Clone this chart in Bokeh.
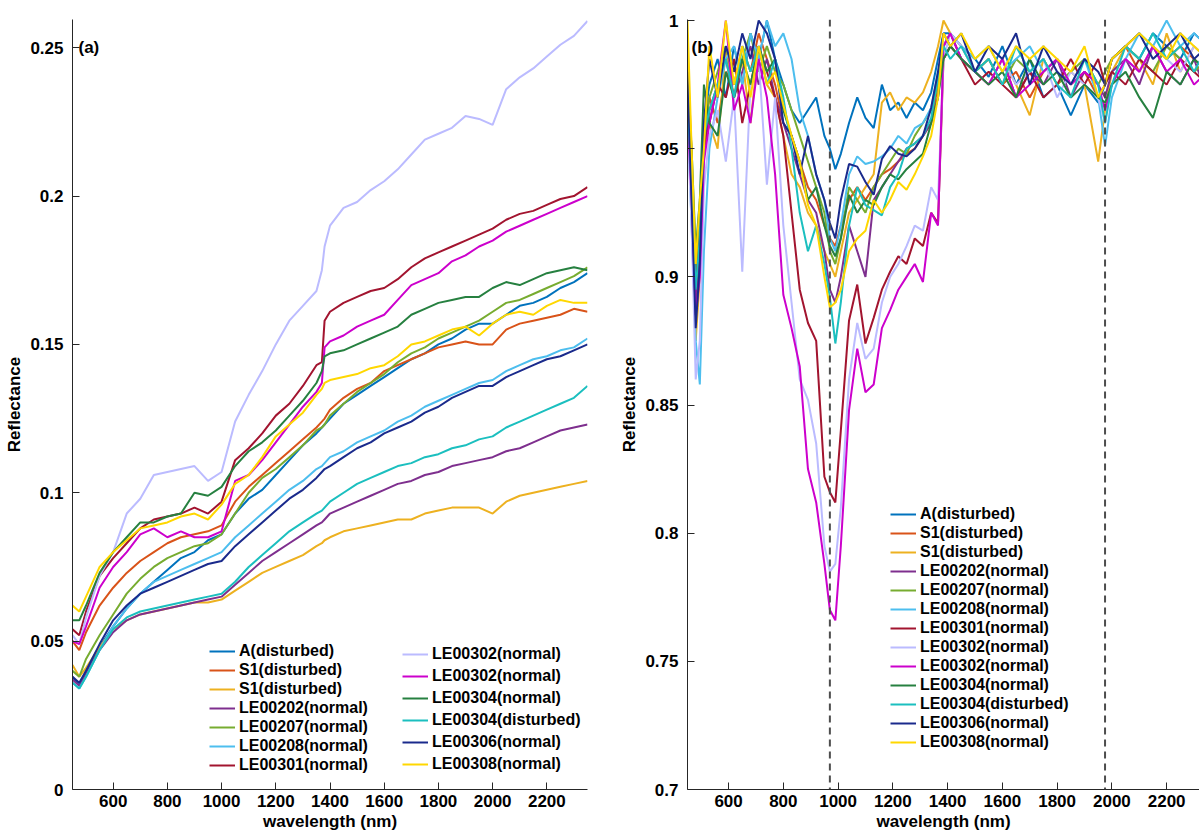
from bokeh.plotting import figure
from bokeh.models import Legend, LegendItem, Span, Label, FixedTicker, CustomJSTickFormatter
from bokeh.layouts import row
from bokeh.embed import file_html
from bokeh.resources import INLINE

FONT = "Liberation Sans"

# ---------------- data ----------------
names = ["A(disturbed)", "S1(disturbed)", "S1(disturbed)", "LE00202(normal)", "LE00207(normal)",
         "LE00208(normal)", "LE00301(normal)", "LE00302(normal)", "LE00302(normal)", "LE00304(normal)",
         "LE00304(disturbed)", "LE00306(normal)", "LE00308(normal)"]
colors = ["#0072BD", "#D95319", "#EDB120", "#7E2F8E", "#77AC30", "#4DBEEE", "#A2142F",
          "#BBBBFF", "#CC00CC", "#268040", "#1BBFBF", "#1A2A8C", "#FFD700"]

# panel (a): reflectance
wl_a = [450, 475, 500, 550, 600, 650, 700, 750, 800, 850, 900, 950, 1000, 1050, 1100, 1150, 1200, 1250,
        1300, 1350, 1370, 1380, 1400, 1450, 1500, 1550, 1600, 1650, 1700, 1750, 1800, 1850, 1900, 1950,
        2000, 2050, 2100, 2150, 2200, 2250, 2300, 2350]
a_A = [.038, .035, .040, .048, .055, .061, .066, .070, .074, .078, .080, .084, .086, .093, .098, .101, .106, .111,
       .116, .120, .122, .123, .125, .130, .133, .136, .139, .142, .145, .147, .150, .152, .155, .157,
       .157, .160, .163, .164, .166, .169, .171, .174]
a_S1a = [.050, .047, .053, .062, .068, .073, .077, .080, .083, .085, .086, .087, .089, .097, .102, .106, .110, .114,
         .118, .122, .124, .125, .128, .132, .135, .137, .141, .143, .145, .147, .149, .150, .151, .150,
         .150, .155, .157, .158, .159, .160, .162, .161]
a_S1b = [.042, .038, .041, .048, .054, .057, .059, .060, .061, .062, .063, .063, .064, .067, .070, .073, .075, .077,
         .079, .082, .083, .084, .085, .087, .088, .089, .090, .091, .091, .093, .094, .095, .095, .095,
         .093, .097, .099, .100, .101, .102, .103, .104]
a_LE00202 = [.037, .035, .039, .047, .053, .057, .059, .060, .061, .062, .063, .064, .065, .069, .073, .077, .080, .083,
             .086, .089, .090, .091, .093, .095, .097, .099, .101, .103, .104, .106, .107, .109, .110, .111,
             .112, .114, .115, .117, .119, .121, .122, .123]
a_LE00207 = [.040, .038, .044, .052, .059, .066, .071, .075, .078, .080, .082, .083, .086, .093, .100, .105, .108, .112,
             .116, .121, .122, .123, .126, .130, .134, .137, .140, .144, .147, .149, .152, .154, .156, .158,
             .161, .164, .165, .167, .169, .171, .173, .176]
a_LE00208 = [.036, .034, .038, .047, .055, .061, .066, .070, .072, .074, .076, .078, .080, .085, .089, .093, .097, .101,
             .104, .108, .109, .110, .112, .114, .117, .119, .121, .124, .126, .129, .131, .133, .135, .137,
             .138, .141, .143, .145, .146, .148, .149, .152]
a_LE00301 = [.054, .052, .060, .072, .078, .083, .088, .091, .092, .093, .095, .093, .097, .111, .115, .120, .126, .130,
             .136, .143, .144, .158, .161, .164, .166, .168, .169, .172, .176, .179, .181, .183, .185, .187,
             .189, .192, .194, .195, .197, .199, .200, .203]
a_LE00302a = [.052, .049, .058, .072, .080, .093, .098, .106, .107, .108, .109, .104, .107, .124, .133, .141, .150, .158,
              .163, .168, .175, .183, .190, .196, .198, .202, .205, .209, .214, .219, .221, .223, .227, .226,
              .224, .236, .240, .243, .247, .251, .254, .259]
a_LE00302b = [.050, .049, .055, .068, .075, .080, .086, .088, .085, .087, .085, .085, .087, .104, .106, .111, .117, .123,
              .129, .134, .137, .149, .151, .153, .156, .158, .160, .165, .170, .172, .174, .178, .180, .183,
              .185, .188, .190, .192, .194, .196, .198, .200]
a_LE00304 = [.057, .057, .062, .073, .080, .085, .090, .090, .092, .093, .100, .099, .102, .109, .114, .117, .121, .126,
             .131, .137, .141, .146, .147, .148, .150, .152, .154, .156, .160, .162, .164, .165, .166, .166,
             .169, .171, .170, .172, .174, .175, .176, .175]
a_LE00304d = [.036, .034, .038, .047, .054, .058, .060, .061, .062, .063, .064, .065, .066, .070, .075, .079, .083, .087,
              .090, .093, .094, .095, .097, .100, .103, .105, .107, .109, .110, .112, .113, .115, .116, .118,
              .119, .122, .124, .126, .128, .130, .132, .136]
a_LE00306 = [.038, .036, .040, .049, .057, .062, .066, .068, .070, .072, .074, .076, .077, .082, .086, .090, .094, .098,
             .101, .105, .107, .108, .109, .112, .115, .117, .120, .122, .124, .127, .129, .132, .134, .136,
             .136, .139, .141, .143, .145, .146, .148, .150]
a_LE00308 = [.062, .060, .065, .075, .080, .084, .088, .089, .090, .092, .093, .091, .096, .103, .106, .112, .119, .123,
             .127, .133, .135, .137, .138, .139, .140, .142, .143, .146, .150, .151, .153, .155, .156, .153,
             .157, .160, .161, .160, .163, .165, .164, .164]

# panel (b): continuum-removed reflectance
wl_b = [450, 465, 480, 495, 510, 530, 560, 590, 620, 650, 680, 710, 740, 770, 800, 830, 860, 890, 920, 950,
        970, 990, 1010, 1040, 1070, 1100, 1130, 1160, 1190, 1220, 1250, 1280, 1310, 1340, 1365, 1385, 1410,
        1450, 1500, 1550, 1600, 1650, 1700, 1750, 1800, 1850, 1900, 1950, 1975, 2000, 2050, 2100, 2150,
        2200, 2250, 2300, 2350]
b_A = [.975, .94, .905, .92, .96, .975, .985, .97, .99, .975, .995, .985, 1.0, .985, .975, .965, .96, .965, .97, .955,
       .95, .942, .948, .96, .97, .962, .958, .975, .965, .968, .962, .968, .965, .972, .985, .995, .995,
       .99, .985, .978, .99, .975, .985, .97, .975, .963, .975, .968, .975, .985, .99, .985, .995,
       .99, .985, .995, .99]
b_S1a = [.97, .935, .90, .915, .955, .97, .96, .98, .975, .99, .98, .995, .985, .975, .96, .955, .945, .935, .93, .92,
         .915, .912, .92, .93, .935, .93, .935, .94, .942, .945, .948, .95, .955, .96, .975, .99, .995,
         .985, .98, .985, .975, .98, .97, .98, .985, .975, .98, .97, .975, .985, .99, .98, .99,
         .985, .99, .985, .98]
b_S1b = [.985, .95, .875, .90, .95, .96, .95, .99, .97, .985, .96, .99, .975, .97, .955, .94, .935, .925, .92, .91,
         .905, .90, .91, .925, .93, .935, .94, .968, .972, .965, .97, .968, .972, .98, .99, 1.0, .995,
         .99, .98, .975, .985, .975, .963, .985, .975, .98, .975, .945, .965, .98, .99, .985, .975,
         .995, .98, .99, .985]
b_LE00202 = [.97, .93, .89, .91, .95, .965, .975, .985, .97, .98, .99, .975, .985, .97, .96, .95, .94, .93, .925, .91,
             .895, .89, .90, .92, .91, .90, .93, .935, .94, .945, .95, .952, .955, .96, .97, .99, .995,
             .985, .98, .975, .985, .97, .98, .975, .985, .97, .98, .975, .97, .98, .985, .975, .99,
             .98, .975, .985, .97]
b_LE00207 = [.975, .945, .90, .92, .955, .97, .98, .99, .975, .985, .995, .98, .99, .98, .975, .965, .955, .945, .935, .925,
             .91, .905, .915, .935, .93, .925, .935, .94, .945, .95, .948, .955, .96, .965, .975, .985, .99,
             .985, .98, .985, .975, .985, .98, .985, .975, .98, .985, .975, .98, .985, .99, .985, .98,
             .99, .985, .98, .985]
b_LE00208 = [.965, .92, .875, .858, .91, .95, .97, .985, .99, .975, .995, .985, 1.0, .99, .995, .985, .965, .955, .94, .93,
             .915, .91, .92, .94, .947, .944, .945, .947, .95, .955, .952, .958, .96, .966, .98, .99, .995,
             .99, .985, .99, .98, .985, .99, .98, .985, .975, .985, .97, .951, .97, .985, .995, .99,
             1.0, .99, .995, .99]
b_LE00301 = [.97, .94, .895, .915, .95, .96, .975, .97, .985, .96, .975, .99, .98, .97, .955, .925, .895, .882, .875, .822,
             .816, .812, .84, .883, .897, .874, .884, .895, .902, .908, .905, .915, .912, .925, .921, .985, .99,
             .985, .975, .98, .975, .97, .98, .97, .975, .985, .975, .985, .975, .98, .975, .985, .98,
             .975, .985, .98, .975]
b_LE00302a = [.96, .92, .86, .875, .935, .955, .965, .945, .97, .902, .975, .985, .936, .97, .92, .89, .86, .852, .835, .795,
              .785, .788, .81, .86, .882, .868, .872, .89, .90, .905, .912, .92, .918, .935, .93, .985, .995,
              .99, .98, .975, .985, .975, .98, .985, .97, .98, .975, .97, .96, .975, .985, .98, .99,
              .985, .98, .99, .985]
b_LE00302b = [.965, .93, .885, .90, .945, .96, .975, 1.0, .965, .975, .96, .985, .97, .94, .893, .88, .865, .825, .812, .788,
              .77, .766, .795, .848, .872, .855, .858, .88, .887, .895, .90, .905, .898, .925, .92, .99, .995,
              .985, .98, .975, .985, .97, .975, .98, .985, .975, .98, .975, .965, .975, .985, .98, .99,
              .98, .985, .975, .98]
b_LE00304 = [.975, .95, .91, .93, .975, .96, .955, .98, .97, .985, .975, .99, .98, .985, .965, .955, .945, .93, .935, .92,
             .912, .908, .915, .932, .925, .93, .928, .935, .94, .938, .942, .945, .948, .96, .97, .985, .99,
             .985, .98, .975, .98, .97, .985, .975, .98, .97, .975, .97, .968, .975, .98, .97, .962,
             .98, .975, .985, .98]
b_LE00304d = [.97, .935, .895, .915, .955, .965, .975, .985, .97, .99, .98, .99, .975, .985, .97, .95, .925, .91, .92, .905,
              .892, .874, .89, .92, .935, .928, .926, .924, .935, .94, .95, .952, .955, .962, .978, .99, .985,
              .99, .98, .985, .975, .99, .98, .985, .975, .97, .985, .975, .96, .975, .99, .985, .995,
              .985, .99, .98, .99]
b_LE00306 = [.98, .93, .88, .905, .96, .985, .97, .99, .98, .995, .985, 1.0, .995, .985, .96, .955, .94, .955, .94, .93,
             .921, .915, .93, .944, .943, .937, .932, .946, .951, .948, .947, .95, .955, .966, .98, .995, .99,
             .995, .98, .99, .985, .995, .975, .99, .98, .975, .985, .98, .975, .985, .99, .995, .985,
             .99, .995, .985, .99]
b_LE00308 = [1.0, .95, .905, .93, .95, .99, .97, 1.0, .975, .99, .97, .99, .975, .98, .967, .955, .945, .928, .92, .90,
             .888, .89, .895, .91, .915, .918, .93, .925, .93, .937, .934, .94, .947, .955, .97, .995, .99,
             .995, .985, .99, .98, .99, .985, .99, .985, .98, .99, .97, .975, .985, .99, .995, .99,
             .985, .995, .99, .985]

series_a = [a_A, a_S1a, a_S1b, a_LE00202, a_LE00207, a_LE00208, a_LE00301, a_LE00302a, a_LE00302b,
            a_LE00304, a_LE00304d, a_LE00306, a_LE00308]
series_b = [b_A, b_S1a, b_S1b, b_LE00202, b_LE00207, b_LE00208, b_LE00301, b_LE00302a, b_LE00302b,
            b_LE00304, b_LE00304d, b_LE00306, b_LE00308]

x_ticks = [600, 800, 1000, 1200, 1400, 1600, 1800, 2000, 2200]
y_ticks_a = [0, 0.05, 0.1, 0.15, 0.2, 0.25]
y_ticks_b = [0.7, 0.75, 0.8, 0.85, 0.9, 0.95, 1.0]
band_lines = [970, 1975]

AX = "#262626"


def style(p, yticks):
    p.outline_line_color = None
    p.xgrid.visible = False
    p.ygrid.visible = False
    p.background_fill_color = "white"
    p.border_fill_color = "white"
    for ax in (p.xaxis[0], p.yaxis[0]):
        ax.axis_line_color = AX
        ax.axis_line_width = 1
        ax.major_tick_line_color = AX
        ax.major_tick_in = 7
        ax.major_tick_out = 0
        ax.minor_tick_line_color = None
        ax.major_label_text_font = FONT
        ax.major_label_text_font_style = "bold"
        ax.major_label_text_font_size = "17px"
        ax.major_label_text_color = "black"
        ax.axis_label_text_font = FONT
        ax.axis_label_text_font_style = "bold"
        ax.axis_label_text_font_size = "17px"
        ax.axis_label_text_color = "black"
    p.xaxis[0].ticker = FixedTicker(ticks=x_ticks)
    p.yaxis[0].ticker = FixedTicker(ticks=yticks)
    p.yaxis[0].formatter = CustomJSTickFormatter(code="return String(Math.round(tick*100)/100);")
    p.xaxis[0].axis_label = "wavelength (nm)"
    p.yaxis[0].axis_label = "Reflectance"
    p.xaxis[0].major_label_standoff = 5
    p.xaxis[0].axis_label_standoff = 2
    p.yaxis[0].major_label_standoff = 9
    p.yaxis[0].axis_label_standoff = 3


def make_legend(items, loc, spacing):
    return Legend(items=items, location=loc, label_text_font=FONT, label_text_font_style="bold",
                  label_text_font_size="16px", label_text_color="black", glyph_width=26, glyph_height=18,
                  label_height=18, spacing=spacing, padding=0, margin=0, label_standoff=4,
                  border_line_alpha=0, background_fill_alpha=0)


# ---------------- panel (a) ----------------
pa = figure(width=600, height=836, x_range=(450, 2350), y_range=(0, 0.2595),
            output_backend="svg", toolbar_location=None,
            min_border_left=72, min_border_right=13, min_border_top=19, min_border_bottom=47)
style(pa, y_ticks_a)
rend_a = []
for ys, c in zip(series_a, colors):
    rend_a.append(pa.line(wl_a, ys, line_color=c, line_width=2))
items_a = [LegendItem(label=n, renderers=[r]) for n, r in zip(names, rend_a)]
pa.add_layout(make_legend(items_a[:7], (137, 15), 1))
pa.add_layout(make_legend(items_a[7:], (330, 16), 4))
pa.add_layout(Label(x=450, y=0.25, x_offset=6, text="(a)", text_font=FONT, text_font_style="bold",
                    text_font_size="17px", text_baseline="middle", text_color="black"))

# ---------------- panel (b) ----------------
pb = figure(width=599, height=836, x_range=(450, 2320), y_range=(0.7, 1.0004),
            output_backend="svg", toolbar_location=None,
            min_border_left=87, min_border_right=0, min_border_top=19, min_border_bottom=47)
style(pb, y_ticks_b)
rend_b = []
for ys, c in zip(series_b, colors):
    rend_b.append(pb.line(wl_b, ys, line_color=c, line_width=2))
for loc in band_lines:
    pb.add_layout(Span(location=loc, dimension="height", line_color="#4D4D4D", line_width=2,
                       line_dash="7 5"))
items_b = [LegendItem(label=n, renderers=[r]) for n, r in zip(names, rend_b)]
pb.add_layout(make_legend(items_b, (203, 38), 1))
pb.add_layout(Label(x=450, y=0.9895, x_offset=4, text="(b)", text_font=FONT, text_font_style="bold",
                    text_font_size="17px", text_baseline="middle", text_color="black"))

layout = row(pa, pb)
open("out.html", "w").write(file_html(layout, INLINE))
